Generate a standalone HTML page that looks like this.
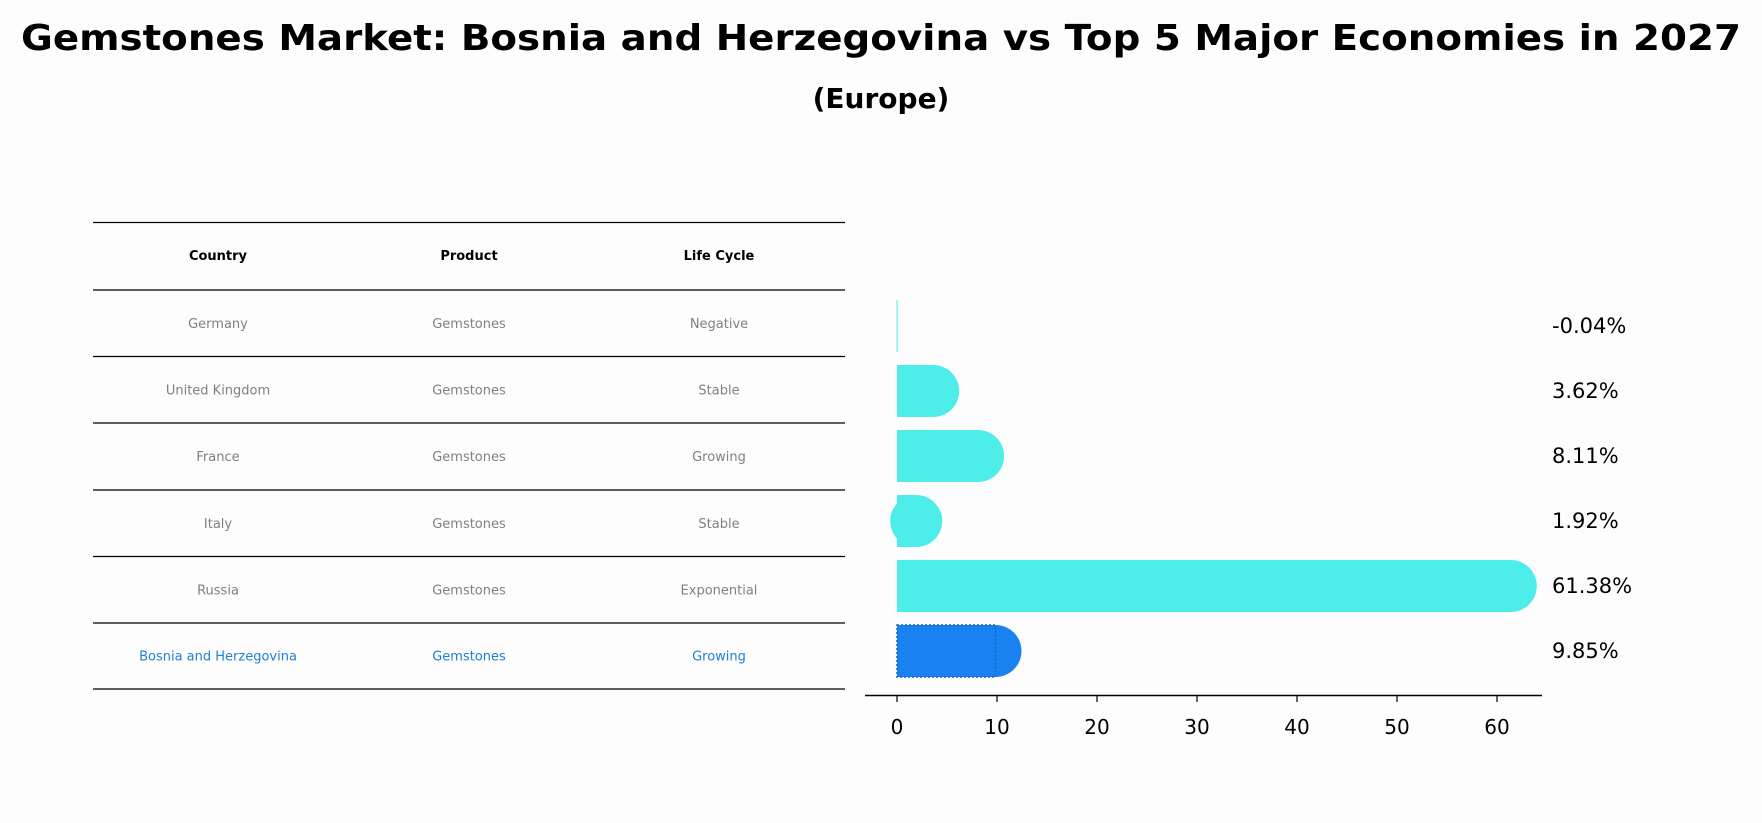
<!DOCTYPE html>
<html><head><meta charset="utf-8"><style>
body{margin:0;background:#fdfdfd;}
svg{display:block;font-family:"DejaVu Sans","Liberation Sans",sans-serif;}
</style></head><body>
<svg id="chart" width="1762" height="823" viewBox="0 0 1762 823">
<rect width="1762" height="823" fill="#fdfdfd"/>
<text x="881" y="50" text-anchor="middle" font-weight="bold" font-size="36" textLength="1720" lengthAdjust="spacingAndGlyphs">Gemstones Market: Bosnia and Herzegovina vs Top 5 Major Economies in 2027</text>
<text x="881" y="108" text-anchor="middle" font-weight="bold" font-size="28">(Europe)</text>
<g id="table"></g>
<g id="bars"></g>
</svg>
<script>
const countries = ["Germany","United Kingdom","France","Italy","Russia","Bosnia and Herzegovina"];
const products = ["Gemstones","Gemstones","Gemstones","Gemstones","Gemstones","Gemstones"];
const lifeCycles = ["Negative","Stable","Growing","Stable","Exponential","Growing"];
const values = [-0.04,3.62,8.11,1.92,61.38,9.85];
const valueLabels = ["-0.04%","3.62%","8.11%","1.92%","61.38%","9.85%"];
const ticks = [0,10,20,30,40,50,60];

const NS="http://www.w3.org/2000/svg";
function mk(tag,attrs,parent){const e=document.createElementNS(NS,tag);for(const k in attrs)e.setAttribute(k,attrs[k]);parent.appendChild(e);return e;}
const tbl=document.getElementById('table');
const lineYs=[222.5,290,356.5,423,490,556.5,623,689];
for(let i=0;i<lineYs.length;i++){
  const l=mk('line',{x1:93,x2:845,y1:lineYs[i],y2:lineYs[i],stroke:'#000','stroke-width':1.2},tbl);
  
  
}
const colX=[218,469,719];
const headers=["Country","Product","Life Cycle"];
headers.forEach((h,j)=>{
  const t=mk('text',{x:colX[j],y:260,'text-anchor':'middle','font-size':13,'font-weight':'bold'},tbl);
  t.textContent=h;
  
  
});
for(let i=0;i<countries.length;i++){
  const y=(lineYs[i+1]+lineYs[i+2])/2+4.5;
  const col=i===countries.length-1?'#1f7fd6':'#808080';
  [countries[i],products[i],lifeCycles[i]].forEach((s,j)=>{
    const t=mk('text',{x:colX[j],y:y,'text-anchor':'middle','font-size':13,fill:col},tbl);
    t.textContent=s;
    
    
  });
}
const g=document.getElementById('bars');
const x0=897, pxPer=10;
function xs(v){return x0+v*pxPer;}
const y0=326, step=65, bh=52, r=26;
for(let i=0;i<values.length;i++){
  const cy=y0+i*step;
  const last=i===values.length-1;
  const col=last?'#1a82f0':'#4deee9';
  const xv=xs(values[i]);
  const bg=mk('g',{},g);
  
  
  const x1=Math.min(x0,xv), w=Math.max(Math.abs(xv-x0),1);
  mk('rect',{x:x1,y:cy-bh/2,width:w,height:bh,fill:col},bg);
  if(values[i]>0){mk('ellipse',{cx:xv,cy:cy,rx:r,ry:bh/2,fill:col},bg);}
  if(last){mk('rect',{x:x0,y:cy-bh/2,width:w,height:bh,fill:'none',stroke:'#1565c0','stroke-width':1.5,'stroke-dasharray':'2,2'},bg);}
  const t=mk('text',{x:1552,y:cy+7,'font-size':21},g);
  t.textContent=valueLabels[i];
  
  
}
const ax=mk('line',{x1:865,x2:1542,y1:695.5,y2:695.5,stroke:'#000','stroke-width':1.6},g);


ticks.forEach(v=>{
  const tk=mk('line',{x1:xs(v),x2:xs(v),y1:695.5,y2:702,stroke:'#000','stroke-width':1.2},g);
  
  
  const t=mk('text',{x:xs(v),y:734,'text-anchor':'middle','font-size':20},g);
  t.textContent=v;
  
  
});
</script>
</body></html>
